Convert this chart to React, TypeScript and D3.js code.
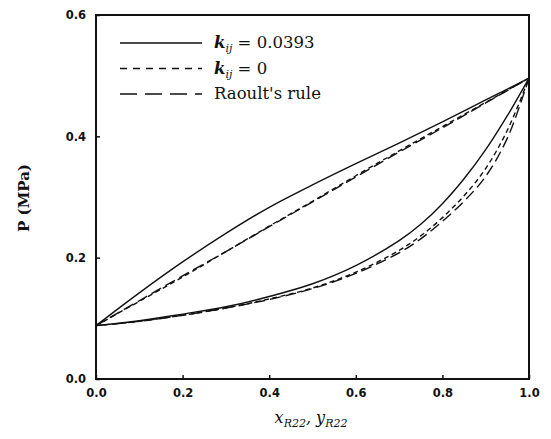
import { useEffect, useRef } from 'react';
import * as d3 from 'd3';

// liquid side (bubble curves), mole fraction of R22
const xBubble = [0, 0.1, 0.2, 0.3, 0.4, 0.5, 0.6, 0.7, 0.8, 0.9, 1.0];
const pBubbleKij = [0.088, 0.142, 0.193, 0.24, 0.283, 0.32, 0.355, 0.389, 0.424, 0.46, 0.496];
const pBubbleZero = [0.088, 0.128, 0.168, 0.21, 0.252, 0.293, 0.335, 0.376, 0.416, 0.456, 0.496];
const pBubbleRaoult = [0.088, 0.129, 0.17, 0.21, 0.251, 0.292, 0.333, 0.374, 0.414, 0.455, 0.496];

// vapour side (dew curves)
const xDew = [0, 0.1, 0.2, 0.3, 0.4, 0.5, 0.6, 0.7, 0.75, 0.8, 0.85, 0.9, 0.95, 1.0];
const pDewKij = [0.088, 0.096, 0.107, 0.119, 0.136, 0.157, 0.187, 0.228, 0.255, 0.289, 0.33, 0.378, 0.434, 0.496];
const pDewZero = [0.088, 0.095, 0.105, 0.117, 0.132, 0.15, 0.176, 0.212, 0.236, 0.266, 0.302, 0.347, 0.41, 0.496];
const pDewRaoult = [0.088, 0.095, 0.105, 0.117, 0.131, 0.149, 0.174, 0.208, 0.231, 0.26, 0.293, 0.334, 0.397, 0.496];

const xTicks = [0, 0.2, 0.4, 0.6, 0.8, 1.0];
const yTicks = [0, 0.2, 0.4, 0.6];

const legendNames = ['kij', 'zero', 'raoult'];
const dashes: Record<string, string> = { kij: 'none', zero: '5,3.5', raoult: '11,5' };
const legendDashes: Record<string, string> = { kij: 'none', zero: '7,6', raoult: '17,8' };

export default function App() {
  const svgRef = useRef<SVGSVGElement>(null);

  useEffect(() => {
    if (!svgRef.current) return;
    const svg = d3.select(svgRef.current);
    svg.selectAll('*').remove();

    const left = 96, right = 529, top = 15, bottom = 379;

    const x = d3.scaleLinear().domain([0, 1]).range([left, right]);
    const y = d3.scaleLinear().domain([0, 0.6]).range([bottom, top]);

    const series = [
      { key: 'kij', xs: xBubble, ps: pBubbleKij },
      { key: 'zero', xs: xBubble, ps: pBubbleZero },
      { key: 'raoult', xs: xBubble, ps: pBubbleRaoult },
      { key: 'kij', xs: xDew, ps: pDewKij },
      { key: 'zero', xs: xDew, ps: pDewZero },
      { key: 'raoult', xs: xDew, ps: pDewRaoult },
    ];

    const line = d3.line<[number, number]>()
      .x(d => x(d[0]))
      .y(d => y(d[1]))
      .curve(d3.curveCatmullRom.alpha(0.5));

    series.forEach(s => {
      svg.append('path')
        .datum(s.xs.map((v, i) => [v, s.ps[i]] as [number, number]))
        .attr('fill', 'none')
        .attr('stroke', '#111')
        .attr('stroke-width', 1.4)
        .attr('stroke-dasharray', dashes[s.key])
        .attr('d', line);
    });

    // frame
    svg.append('rect')
      .attr('x', left)
      .attr('y', top)
      .attr('width', right - left)
      .attr('height', bottom - top)
      .attr('fill', 'none')
      .attr('stroke', '#111')
      .attr('stroke-width', 2);

    const xAxis = d3.axisBottom(x)
      .tickValues(xTicks)
      .tickSize(-4)
      .tickPadding(10)
      .tickFormat(d3.format('.1f'));

    svg.append('g')
      .attr('transform', `translate(0,${bottom})`)
      .call(xAxis)
      .call(g => g.select('.domain').remove())
      .call(g => g.selectAll('line').attr('stroke', '#111').attr('stroke-width', 1.5))
      .call(g => g.selectAll('text')
        .attr('fill', '#111')
        .attr('font-family', 'DejaVu Sans')
        .attr('font-weight', 'bold')
        .attr('font-size', '11.5px'));

    const yAxis = d3.axisLeft(y)
      .tickValues(yTicks)
      .tickSize(-4)
      .tickPadding(10)
      .tickFormat(d3.format('.1f'));

    svg.append('g')
      .attr('transform', `translate(${left},0)`)
      .call(yAxis)
      .call(g => g.select('.domain').remove())
      .call(g => g.selectAll('line').attr('stroke', '#111').attr('stroke-width', 1.5))
      .call(g => g.selectAll('text')
        .attr('fill', '#111')
        .attr('font-family', 'DejaVu Sans')
        .attr('font-weight', 'bold')
        .attr('font-size', '11.5px'));

    // axis titles
    svg.append('text')
      .attr('transform', `translate(29,198) rotate(-90)`)
      .attr('text-anchor', 'middle')
      .attr('font-family', 'DejaVu Serif')
      .attr('font-weight', 'bold')
      .attr('font-size', '15px')
      .attr('fill', '#111')
      .text('P (MPa)');

    const xt = svg.append('text')
      .attr('x', 311)
      .attr('y', 423)
      .attr('text-anchor', 'middle')
      .attr('font-family', 'DejaVu Serif')
      .attr('font-style', 'italic')
      .attr('font-size', '16px')
      .attr('fill', '#111');
    xt.append('tspan').text('x');
    xt.append('tspan').attr('font-size', '11px').attr('dy', 4).text('R22');
    xt.append('tspan').attr('dy', -4).text(', y');
    xt.append('tspan').attr('font-size', '11px').attr('dy', 4).text('R22');

    // legend
    const legend = svg.append('g');
    const rowY = d3.scalePoint<string>().domain(legendNames).range([43, 94]);

    legendNames.forEach(name => {
      const yy = rowY(name) as number;
      legend.append('line')
        .attr('x1', 120)
        .attr('x2', 202)
        .attr('y1', yy)
        .attr('y2', yy)
        .attr('stroke', '#111')
        .attr('stroke-width', 1.4)
        .attr('stroke-dasharray', legendDashes[name]);

      const t = legend.append('text')
        .attr('x', 214)
        .attr('y', yy + 5)
        .attr('font-family', 'DejaVu Serif')
        .attr('font-size', '16.5px')
        .attr('fill', '#111');
      if (name === 'raoult') {
        t.text("Raoult's rule");
      } else {
        t.append('tspan').attr('font-style', 'italic').attr('font-weight', 'bold').text('k');
        t.append('tspan').attr('font-style', 'italic').attr('font-size', '11px').attr('dy', 4).text('ij');
        t.append('tspan').attr('dy', -4).text(name === 'kij' ? ' = 0.0393' : ' = 0');
      }
    });
  }, []);

  return (
    <svg
      ref={svgRef}
      width={551}
      height={439}
      style={{ position: 'absolute', left: 0, top: 0, background: '#fff' }}
    />
  );
}
